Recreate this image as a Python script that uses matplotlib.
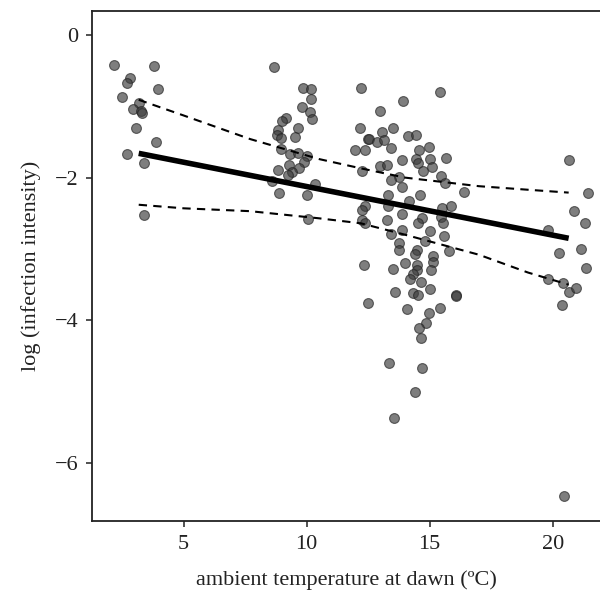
import numpy as np
import matplotlib
matplotlib.use('Agg')
import matplotlib.pyplot as plt

# observed points: ambient temperature at dawn (C) vs log infection intensity
temp = [
    2.18, 3.78, 2.83, 2.69, 3.94, 2.48, 3.17, 2.93, 3.26, 3.30, 3.05, 3.87, 2.69, 3.40, 3.37,
    8.69, 9.83, 10.17, 10.17, 9.80, 10.14, 10.22, 9.16, 9.01, 12.21, 9.66, 8.82, 8.78, 8.96,
    9.53, 12.17, 12.49, 8.96, 9.32, 9.64, 10.00, 9.87, 11.97, 12.35, 9.28, 9.70, 9.42, 9.23,
    8.82, 8.58, 10.34, 8.86, 10.03, 12.24, 12.35, 12.24, 12.24, 12.38, 10.04,
    15.40, 13.93, 12.96, 13.07, 13.50, 12.54, 12.85, 13.15, 14.10, 14.45, 13.43, 14.57, 14.97,
    13.87, 14.44, 14.52, 15.02, 15.67, 12.99, 13.26, 14.72, 15.09, 13.77, 13.42, 13.87, 15.46,
    15.63, 16.38, 13.32, 14.60, 14.14, 13.30, 15.50, 15.86, 13.87, 13.26, 14.68, 14.52, 15.47,
    15.56, 15.02, 13.42, 13.87, 15.59, 14.79, 13.75, 13.77, 14.48, 14.41, 15.77, 15.13,
    15.13, 12.34, 13.50, 14.00, 14.48, 14.50, 14.32, 15.05, 14.21, 14.65, 13.60, 14.32, 14.52,
    15.01, 16.07, 16.07, 12.51, 14.07, 14.97, 15.40, 14.87, 14.58, 14.64, 13.36, 14.68, 14.42,
    13.53,
    20.65, 21.42, 20.85, 21.33, 19.81, 20.27, 21.16, 21.37, 19.81, 20.42, 20.65, 20.95, 20.38,
    20.48,
]
log_intensity = [
    -0.42, -0.43, -0.61, -0.68, -0.76, -0.87, -0.96, -1.04, -1.06, -1.09, -1.31, -1.50, -1.67, -1.80, -2.52,
    -0.45, -0.75, -0.76, -0.90, -1.01, -1.08, -1.18, -1.16, -1.20, -0.75, -1.31, -1.33, -1.41, -1.44,
    -1.43, -1.31, -1.46, -1.60, -1.67, -1.66, -1.70, -1.78, -1.61, -1.62, -1.83, -1.87, -1.92, -1.97,
    -1.90, -2.05, -2.09, -2.22, -2.25, -1.91, -2.40, -2.45, -2.60, -2.64, -2.58,
    -0.80, -0.92, -1.07, -1.36, -1.30, -1.46, -1.50, -1.48, -1.42, -1.41, -1.59, -1.62, -1.57,
    -1.75, -1.74, -1.80, -1.74, -1.73, -1.84, -1.82, -1.91, -1.85, -1.99, -2.04, -2.13, -1.98,
    -2.08, -2.20, -2.25, -2.25, -2.33, -2.40, -2.42, -2.40, -2.51, -2.59, -2.57, -2.64, -2.55,
    -2.64, -2.75, -2.79, -2.74, -2.82, -2.89, -2.91, -3.01, -3.02, -3.07, -3.03, -3.10,
    -3.18, -3.23, -3.28, -3.20, -3.22, -3.29, -3.35, -3.29, -3.42, -3.46, -3.60, -3.62, -3.65,
    -3.56, -3.64, -3.66, -3.75, -3.84, -3.90, -3.83, -4.04, -4.11, -4.25, -4.60, -4.66, -5.00,
    -5.37,
    -1.76, -2.22, -2.47, -2.63, -2.74, -3.05, -3.00, -3.26, -3.42, -3.48, -3.60, -3.54, -3.78,
    -6.46,
]

# fitted line and confidence band
fit_x = [3.17, 20.65]
fit_y = [-1.66, -2.85]
band_x = [3.17, 5.0, 7.7, 10.5, 12.2, 14.0, 17.0, 19.0, 20.65]
band_upper = [-0.91, -1.13, -1.46, -1.74, -1.87, -2.00, -2.12, -2.17, -2.21]
band_lower = [-2.38, -2.43, -2.47, -2.57, -2.64, -2.80, -3.08, -3.33, -3.50]

x_ticks = [5, 10, 15, 20]
y_ticks = [0, -2, -4, -6]

plt.rcParams['font.family'] = ['Liberation Serif', 'DejaVu Serif']
plt.rcParams['font.size'] = 16

fig = plt.figure(figsize=(6.0, 5.97), dpi=100)
ax = fig.add_axes([0.1533, 0.1273, 0.849, 0.855])

ax.scatter(temp, log_intensity, s=50, facecolor='#3c3c3c', edgecolor='#222222',
           linewidth=0.8, alpha=0.66, zorder=2)
ax.plot(fit_x, fit_y, color='black', lw=4, solid_capstyle='butt', zorder=3)
ax.plot(band_x, band_upper, color='black', lw=1.5, ls=(0, (4, 3)), zorder=3)
ax.plot(band_x, band_lower, color='black', lw=1.5, ls=(0, (4, 3)), zorder=3)

ax.set_xlim(1.27, 21.98)
ax.set_ylim(-6.81, 0.34)
ax.set_xticks(x_ticks)
ax.set_yticks(y_ticks)
ax.set_yticklabels(['0', '\u22122', '\u22124', '\u22126'])
ax.tick_params(direction='out', length=4, width=1.1, labelsize=16, colors='#222222', pad=6)
for s in ax.spines.values():
    s.set_linewidth(1.3)
    s.set_color('#222222')
ax.spines['right'].set_visible(False)

ax.set_xlabel('ambient temperature at dawn (ºC)', fontsize=16, labelpad=12, color='#222222')
ax.set_ylabel('log (infection intensity)', fontsize=16, labelpad=10, color='#222222')

fig.savefig('out.png', dpi=100)
